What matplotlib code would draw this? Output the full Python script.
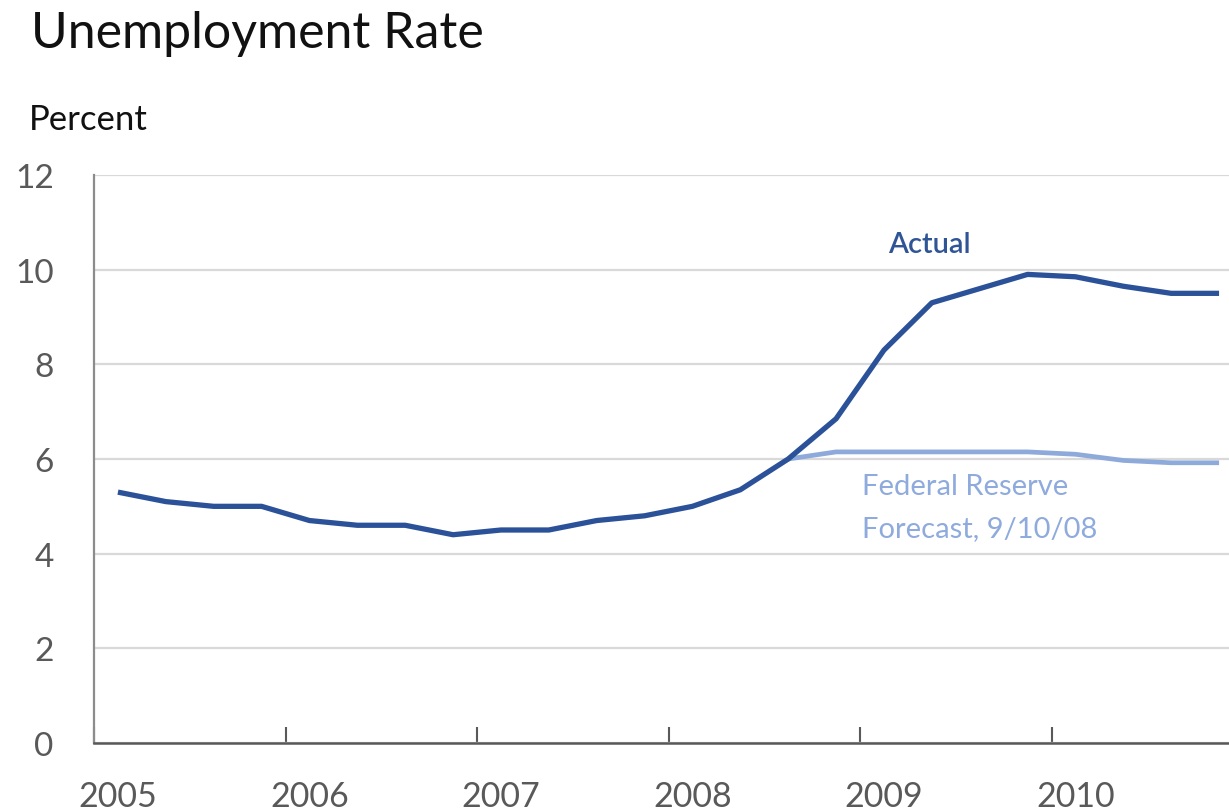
import matplotlib
matplotlib.use("Agg")
import matplotlib.pyplot as plt
from matplotlib.ticker import FixedLocator, NullFormatter, FixedFormatter

plt.rcParams['font.family'] = ['Lato', 'DejaVu Sans']

# Quarterly data, 2005Q1 .. 2010Q4
quarters = list(range(24))
actual = [5.3, 5.1, 5.0, 5.0, 4.7, 4.6, 4.6, 4.4,
          4.5, 4.5, 4.7, 4.8, 5.0, 5.35, 6.0, 6.85,
          8.3, 9.3, 9.6, 9.9, 9.85, 9.65, 9.5, 9.5]
forecast_quarters = list(range(14, 24))
forecast = [6.0, 6.15, 6.15, 6.15, 6.15, 6.15, 6.1, 5.97, 5.92, 5.92]
year_labels = ['2005', '2006', '2007', '2008', '2009', '2010']
y_ticks = [0, 2, 4, 6, 8, 10, 12]

W, H = 1229, 812
fig = plt.figure(figsize=(W / 100, H / 100), dpi=100)
ax = fig.add_axes([94 / W, (H - 744) / H, 1149 / W, 568 / H])

ax.plot(forecast_quarters, forecast, color='#8eaadb', lw=3.4,
        solid_joinstyle='round', solid_capstyle='butt', zorder=3)
ax.plot(quarters, actual, color='#2b5199', lw=3.8,
        solid_joinstyle='round', solid_capstyle='butt', zorder=4)

ax.set_xlim(-0.5, 23.5)
ax.set_ylim(0, 12)

# y axis
ax.set_yticks(y_ticks)
ax.set_yticklabels([str(v) for v in y_ticks])
ax.tick_params(axis='y', length=0, pad=29, labelsize=24, labelcolor='#595959')
ax.yaxis.grid(True, color='#d9d9d9', lw=1.6)
ax.set_axisbelow(True)

# x axis: major ticks at year boundaries, labels under first quarter
ax.xaxis.set_major_locator(FixedLocator([-0.5 + 4 * k for k in range(7)]))
ax.xaxis.set_major_formatter(NullFormatter())
ax.xaxis.set_minor_locator(FixedLocator([4 * k for k in range(len(year_labels))]))
ax.xaxis.set_minor_formatter(FixedFormatter(year_labels))
ax.tick_params(axis='x', which='major', direction='in', length=11.5, width=1.5,
               color='#595959')
ax.tick_params(axis='x', which='minor', length=0, pad=27, labelsize=24.5,
               labelcolor='#595959')

for s in ['top', 'right']:
    ax.spines[s].set_visible(False)
ax.spines['left'].set_color('#8c8c8c')
ax.spines['left'].set_linewidth(1.6)
ax.spines['bottom'].set_color('#595959')
ax.spines['bottom'].set_linewidth(1.8)
ax.spines['bottom'].set_zorder(5)

# annotations
ax.text(16.08, 10.37, 'Actual', color='#2f5597', fontsize=21,
        fontweight='semibold', ha='left', va='baseline')
ax.text(15.55, 5.26, 'Federal Reserve', color='#8faadc', fontsize=21,
        ha='left', va='baseline')
ax.text(15.55, 4.37, 'Forecast, 9/10/08', color='#8faadc', fontsize=21,
        ha='left', va='baseline')

fig.text(31 / W, 1 - 48 / H, 'Unemployment Rate', fontsize=36,
         color='#111111', ha='left', va='baseline')
fig.text(29 / W, 1 - 130 / H, 'Percent', fontsize=25,
         color='#111111', ha='left', va='baseline')

fig.savefig('out.png', dpi=100)
